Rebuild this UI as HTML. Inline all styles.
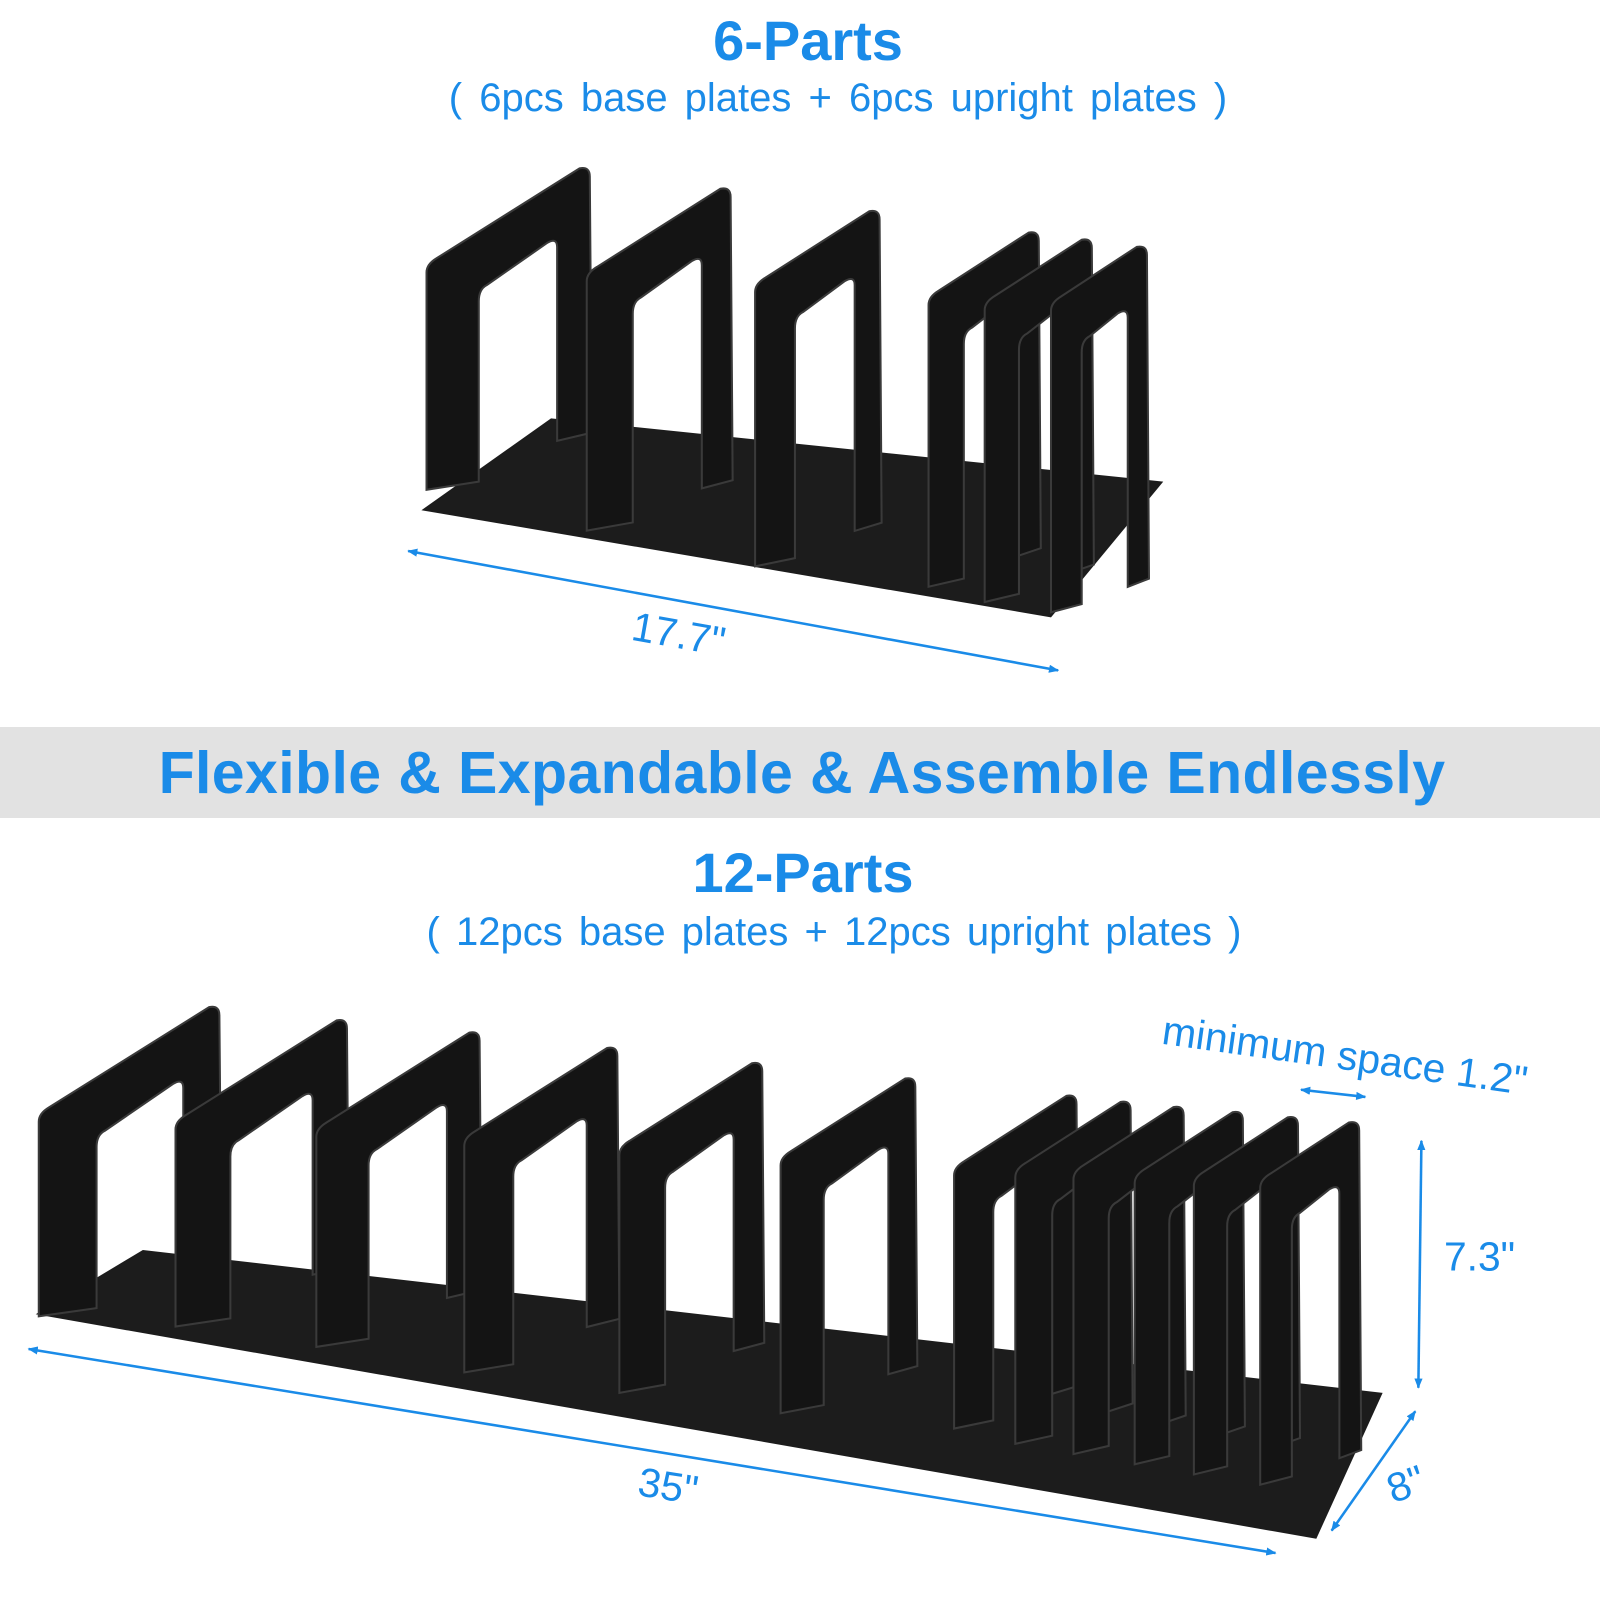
<!DOCTYPE html>
<html><head><meta charset="utf-8"><style>
html,body{margin:0;padding:0;background:#fff;}
body{width:1600px;height:1600px;position:relative;overflow:hidden;font-family:"Liberation Sans",sans-serif;}
.t{position:absolute;left:0;width:1600px;text-align:center;color:#1a8be8;white-space:pre;}
.band{position:absolute;left:0;top:727px;width:1600px;height:91px;background:#e2e2e2;}
svg{position:absolute;left:0;top:0;}
</style></head><body>
<div class="band"></div>
<div class="t" style="top:8px;font-size:56px;font-weight:bold;left:8px;">6-Parts</div>
<div class="t" style="top:76px;font-size:40px;left:38px;word-spacing:6px;">( 6pcs base plates + 6pcs upright plates )</div>
<div class="t" style="top:739px;font-size:59px;font-weight:bold;left:2px;letter-spacing:0.4px;">Flexible &amp; Expandable &amp; Assemble Endlessly</div>
<div class="t" style="top:840px;font-size:56px;font-weight:bold;left:3px;">12-Parts</div>
<div class="t" style="top:910px;font-size:40px;left:34px;word-spacing:5px;">( 12pcs base plates + 12pcs upright plates )</div>
<svg width="1600" height="1600" viewBox="0 0 1600 1600">
<defs><marker id="a" markerWidth="10" markerHeight="8" refX="9" refY="4" orient="auto-start-reverse" markerUnits="userSpaceOnUse"><path d="M0,0L10,4L0,8z" fill="#1a8be8"/></marker></defs>
<g transform="scale(1.0204)" id="g">
<polygon points="413,500 540,410 1140,472 1030,605" fill="#1c1c1c"/>
<polygon points="35,1288 140,1225 1355,1365 1290,1508" fill="#1c1c1c"/>
<g id="ups"></g>
<g stroke="#1a8be8" stroke-width="2.5" fill="none">
<line x1="400" y1="540" x2="1037" y2="657" marker-start="url(#a)" marker-end="url(#a)"/>
<line x1="28" y1="1322" x2="1250" y2="1522" marker-start="url(#a)" marker-end="url(#a)"/>
<line x1="1393" y1="1118" x2="1390" y2="1360" marker-start="url(#a)" marker-end="url(#a)"/>
<line x1="1387" y1="1383" x2="1305" y2="1500" marker-start="url(#a)" marker-end="url(#a)"/>
<line x1="1275" y1="1068" x2="1338" y2="1075" marker-start="url(#a)" marker-end="url(#a)"/>
</g>
<g fill="#1a8be8" font-family="Liberation Sans, sans-serif" font-size="40">
<text x="665" y="635" text-anchor="middle" transform="rotate(10 665 622)">17.7"</text>
<text x="655" y="1470" text-anchor="middle" transform="rotate(9 655 1455)">35"</text>
<text x="1450" y="1245" text-anchor="middle">7.3"</text>
<text x="1378" y="1468" text-anchor="middle" transform="rotate(-20 1378 1455)">8"</text>
<text x="1318" y="1048" text-anchor="middle" transform="rotate(8 1318 1035)">minimum space 1.2"</text>
</g>
</g>
</svg>
<script>
function up(x0,x1,yt,yb){
 var w=x1-x0, s=0.6, lt=yt+w*s, rb=yb-w*0.35;
 var o="M"+x0+","+yb+" L"+x0+","+(lt+8)+" Q"+x0+","+lt+" "+(x0+10)+","+(lt-6)+" L"+(x1-10)+","+(yt+2)+" Q"+x1+","+yt+" "+x1+","+(yt+10)+" L"+(x1+2)+","+rb+" L"+(x1-w*0.2)+","+(rb+8)+" L"+(x1-w*0.2)+","+(rb-40)+" ";
 var hx0=x0+w*0.32, hx1=x1-w*0.2;
 var ht0=yt+w*s*0.68+55, ht1=yt+w*s*0.2+50;
 var h="L"+hx1+","+(ht1+10)+" Q"+hx1+","+ht1+" "+(hx1-10)+","+(ht1+6)+" L"+(hx0+8)+","+(ht0-4)+" Q"+hx0+","+ht0+" "+hx0+","+(ht0+12)+" L"+hx0+","+(yb-8)+" Z";
 return '<path d="'+o+h+'" fill="#141414" stroke="#3a3a3a" stroke-width="2"/>';
}
var d=[[418,578,163,480],[575,716,183,520],[740,862,205,555],[910,1018,226,575],[965,1070,233,590],[1030,1124,240,600],
[38,215,985,1290],[172,340,998,1300],[310,470,1010,1320],[455,605,1025,1345],[607,747,1040,1365],[765,897,1055,1385],[935,1055,1072,1400],[995,1108,1078,1415],[1052,1160,1083,1425],[1112,1218,1088,1435],[1170,1272,1093,1445],[1235,1332,1098,1455]];
var s="";d.forEach(function(a){s+=up(a[0],a[1],a[2],a[3]);});
document.getElementById("ups").innerHTML=s;
</script>
</body></html>
